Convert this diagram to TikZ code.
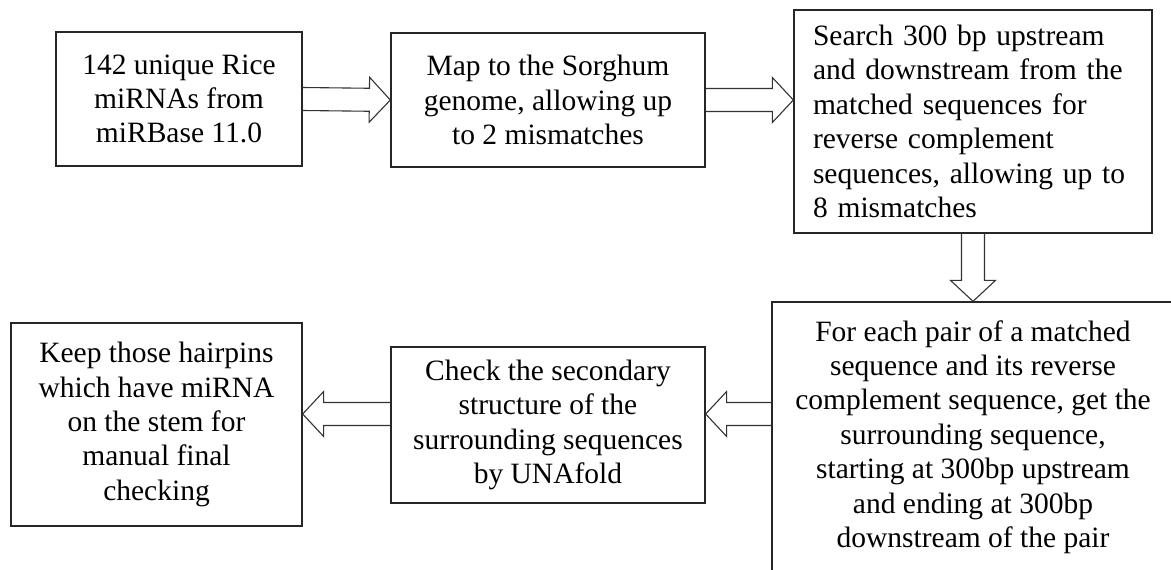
\documentclass[tikz,border=0pt]{standalone}
\usepackage{fontspec}
\setmainfont{Liberation Serif}
\usetikzlibrary{calc}
\newcommand\blockarrow[2]{%
  \coordinate (ba-h) at ($(#2)!21pt!(#1)$);
  \draw[barrow] ($(#1)!11.5pt!90:(#2)$) -- ($(ba-h)!11.5pt!90:(#2)$) -- ($(ba-h)!22.5pt!90:(#2)$)
    -- (#2) -- ($(ba-h)!22.5pt!-90:(#2)$) -- ($(ba-h)!11.5pt!-90:(#2)$) -- ($(#1)!11.5pt!-90:(#2)$);
}
\begin{document}
\begin{tikzpicture}[x=1pt,y=-1pt,
  box/.style={draw=black!85, line width=1.3pt, rectangle, inner sep=0pt,
    font=\fontsize{29.5}{34.4}\selectfont, align=center},
  barrow/.style={draw=black!80, line width=1.1pt, line join=miter}]
\useasboundingbox (0,0) rectangle (1171,570);
\clip (0,0) rectangle (1171,570);
\node[box, minimum width=246pt, minimum height=134pt] (b1) at (179,99)
  {142 unique Rice\\miRNAs from\\miRBase 11.0};
\node[box, minimum width=314pt, minimum height=134pt] (b2) at (548,100)
  {Map to the Sorghum\\genome, allowing up\\to 2 mismatches};
\node[box, minimum width=358pt, minimum height=223pt, text width=320pt, align=left] (b3) at (973,121.5)
  {Search 300 bp upstream\\and downstream from the\\matched sequences for\\reverse complement\\sequences, allowing up to\\8 mismatches};
\node[box, minimum width=402pt, minimum height=270pt] (b4) at (973,437)
  {For each pair of a matched\\sequence and its reverse\\complement sequence, get the\\surrounding sequence,\\starting at 300bp upstream\\and ending at 300bp\\downstream of the pair};
\node[box, minimum width=314pt, minimum height=156pt] (b5) at (548,425)
  {Check the secondary\\structure of the\\surrounding sequences\\by UNAfold};
\node[box, minimum width=291pt, minimum height=203pt] (b6) at (156.5,424.5)
  {Keep those hairpins\\which have miRNA\\on the stem for\\manual final\\checking};
% arrows
\coordinate (a2t) at (b3.west |- b2.east);
\coordinate (a3t) at (b3.south |- b4.north);
\coordinate (a4t) at ($(b5.east)+(0,-11)$);
\coordinate (a4s) at (b4.west |- a4t);
\coordinate (a5t) at ($(b6.east)+(0,-10.5)$);
\coordinate (a5s) at (b5.west |- a5t);
\blockarrow{b1.east}{b2.west}
\blockarrow{b2.east}{a2t}
\blockarrow{b3.south}{a3t}
\blockarrow{a4s}{a4t}
\blockarrow{a5s}{a5t}
\end{tikzpicture}
\end{document}
